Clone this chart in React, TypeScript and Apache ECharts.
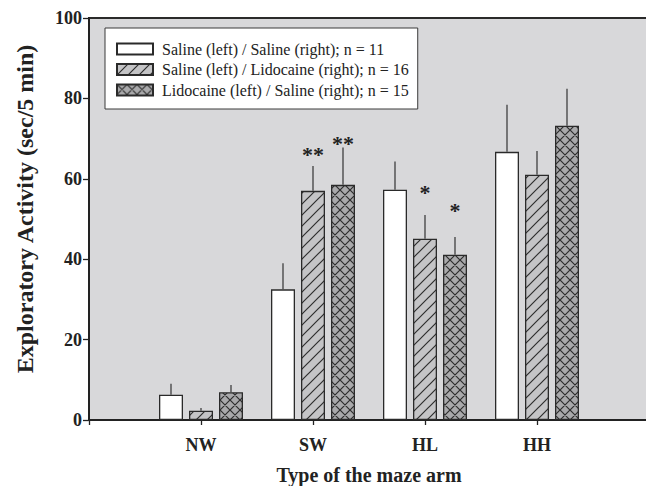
import React, { useEffect, useRef } from 'react';
import * as echarts from 'echarts';

// Arm types along the x axis (blank slots pad the ends of the axis)
const categories = ['', 'NW', 'SW', 'HL', 'HH', ''];
const armTypes = ['NW', 'SW', 'HL', 'HH'];

const seriesNames = [
  'Saline (left) / Saline (right); n = 11',
  'Saline (left) / Lidocaine (right); n = 16',
  'Lidocaine (left) / Saline (right); n = 15',
];

// Mean exploratory activity (sec/5 min) per arm type
const salineSaline = [6.3, 32.5, 57.3, 66.7];
const salineLidocaine = [2.3, 57.0, 45.1, 61.0];
const lidocaineSaline = [6.9, 58.5, 41.1, 73.2];

// Standard errors (upper whiskers)
const salineSalineSem = [2.7, 6.5, 7.0, 11.7];
const salineLidocaineSem = [0.7, 6.2, 5.9, 5.9];
const lidocaineSalineSem = [1.8, 9.3, 4.4, 9.2];

// Significance marks and the activity level they are printed at
const salineLidocaineStars = ['', '**', '*', ''];
const salineLidocaineStarLevel = [0, 66.9, 57.4, 0];
const lidocaineSalineStars = ['', '**', '*', ''];
const lidocaineSalineStarLevel = [0, 69.6, 52.9, 0];

const yMin = 0;
const yMax = 100;
const yStep = 20;

const FONT = "'Liberation Serif', 'Times New Roman', serif";
const BAR_WIDTH = 24;
const BAR_GAP = 6;
const W = 646;
const H = 486;
const PLOT_BG = '#d8d8da';

function makePattern(bg: string, ink: string, size: number, cross: boolean) {
  const c = document.createElement('canvas');
  c.width = size;
  c.height = size;
  const ctx = c.getContext('2d')!;
  ctx.fillStyle = bg;
  ctx.fillRect(0, 0, size, size);
  ctx.strokeStyle = ink;
  ctx.lineWidth = 1.2;
  ctx.beginPath();
  // rising diagonals "/"
  ctx.moveTo(-1, 1); ctx.lineTo(1, -1);
  ctx.moveTo(-1, size + 1); ctx.lineTo(size + 1, -1);
  ctx.moveTo(size - 1, size + 1); ctx.lineTo(size + 1, size - 1);
  if (cross) {
    // falling diagonals "\"
    ctx.moveTo(-1, -1); ctx.lineTo(size + 1, size + 1);
    ctx.moveTo(size - 1, -1); ctx.lineTo(size + 1, 1);
    ctx.moveTo(-1, size - 1); ctx.lineTo(1, size + 1);
  }
  ctx.stroke();
  return { image: c, repeat: 'repeat', imageWidth: size, imageHeight: size } as any;
}

export default function App() {
  const ref = useRef<HTMLDivElement>(null);

  useEffect(() => {
    const chart = echarts.init(ref.current!, null, { renderer: 'svg' });

    const fills = [
      '#ffffff',
      makePattern('#c4c4c6', '#2e2e2e', 11, false),
      makePattern('#a9a9ab', '#2e2e2e', 10, true),
    ];
    const means = [salineSaline, salineLidocaine, lidocaineSaline];
    const sems = [salineSalineSem, salineLidocaineSem, lidocaineSalineSem];
    const stars = [armTypes.map(() => ''), salineLidocaineStars, lidocaineSalineStars];
    const starLevels = [armTypes.map(() => 0), salineLidocaineStarLevel, lidocaineSalineStarLevel];

    const barSeries = means.map((vals, s) => ({
      type: 'bar',
      name: seriesNames[s],
      data: ['-', ...vals, '-'],
      barWidth: BAR_WIDTH,
      barGap: `${(BAR_GAP / BAR_WIDTH) * 100}%`,
      itemStyle: { color: fills[s], borderColor: '#2a2a2a', borderWidth: 1.3 },
      emphasis: { disabled: true },
      z: 2,
    }));

    const whiskerSeries = means.map((vals, s) => ({
      type: 'custom',
      name: seriesNames[s] + ' SEM',
      data: vals.map((v, i) => [i + 1, v, sems[s][i]]),
      z: 3,
      silent: true,
      renderItem: (params: any, api: any) => {
        const idx = api.value(0);
        const mean = api.value(1);
        const sem = api.value(2);
        const offset = (s - 1) * (BAR_WIDTH + BAR_GAP);
        const base = api.coord([idx, mean]);
        const tip = api.coord([idx, mean + sem]);
        const x = base[0] + offset;
        const children: any[] = [
          {
            type: 'line',
            shape: { x1: x, y1: base[1], x2: x, y2: tip[1] },
            style: { stroke: '#404040', lineWidth: 1.3 },
          },
        ];
        const mark = stars[s][params.dataIndex];
        if (mark) {
          const sy = api.coord([idx, starLevels[s][params.dataIndex]])[1];
          children.push({
            type: 'text',
            x,
            y: sy + 3,
            style: {
              text: mark,
              fill: '#222',
              font: `bold 22px ${FONT}`,
              align: 'center',
              verticalAlign: 'middle',
            },
          });
        }
        return { type: 'group', children };
      },
    }));

    chart.setOption({
      animation: false,
      backgroundColor: '#ffffff',
      textStyle: { fontFamily: FONT },
      grid: {
        left: 89,
        right: -3,
        top: 18,
        bottom: 66,
        outerBoundsMode: 'none',
        containLabel: false,
        show: true,
        backgroundColor: PLOT_BG,
        borderColor: '#2a2a2a',
        borderWidth: 2,
      },
      legend: {
        orient: 'vertical',
        left: 105,
        top: 28,
        icon: 'rect',
        itemWidth: 36,
        itemHeight: 11,
        itemGap: 2.5,
        padding: [12, 9, 10, 11],
        backgroundColor: '#ffffff',
        borderColor: '#3a3a3a',
        borderWidth: 1,
        data: seriesNames,
        selectedMode: false,
        textStyle: {
          fontFamily: FONT,
          fontSize: 16,
          color: '#222',
          lineHeight: 18,
          padding: [0, 0, 0, 4],
        },
      },
      xAxis: {
        type: 'category',
        data: categories,
        boundaryGap: false,
        name: 'Type of the maze arm',
        nameLocation: 'middle',
        nameGap: 45,
        nameTextStyle: { fontFamily: FONT, fontSize: 20, fontWeight: 'bold', color: '#222' },
        axisLine: { lineStyle: { color: '#222', width: 2 } },
        axisTick: { show: true, length: 5, lineStyle: { color: '#222', width: 1.3 } },
        axisLabel: { fontFamily: FONT, fontSize: 18, fontWeight: 'bold', color: '#222', margin: 16 },
        splitLine: { show: false },
      },
      yAxis: {
        type: 'value',
        min: yMin,
        max: yMax,
        interval: yStep,
        name: 'Exploratory Activity (sec/5 min)',
        nameLocation: 'middle',
        nameGap: 52,
        nameTextStyle: {
          fontFamily: FONT,
          fontSize: 24,
          fontWeight: 'bold',
          color: '#222',
          padding: [0, 0, 0, 20],
        },
        axisLine: { show: true, lineStyle: { color: '#222', width: 2 } },
        axisTick: { show: true, length: 6, lineStyle: { color: '#222', width: 1.3 } },
        axisLabel: { fontFamily: FONT, fontSize: 18, fontWeight: 'bold', color: '#222', margin: 7 },
        splitLine: { show: false },
      },
      series: [...barSeries, ...whiskerSeries],
    });

    return () => chart.dispose();
  }, []);

  return (
    <div
      style={{
        position: 'fixed',
        left: 0,
        top: 0,
        width: W,
        height: H,
        overflow: 'hidden',
        background: '#ffffff',
      }}
    >
      <div ref={ref} style={{ width: W, height: H }} />
    </div>
  );
}
